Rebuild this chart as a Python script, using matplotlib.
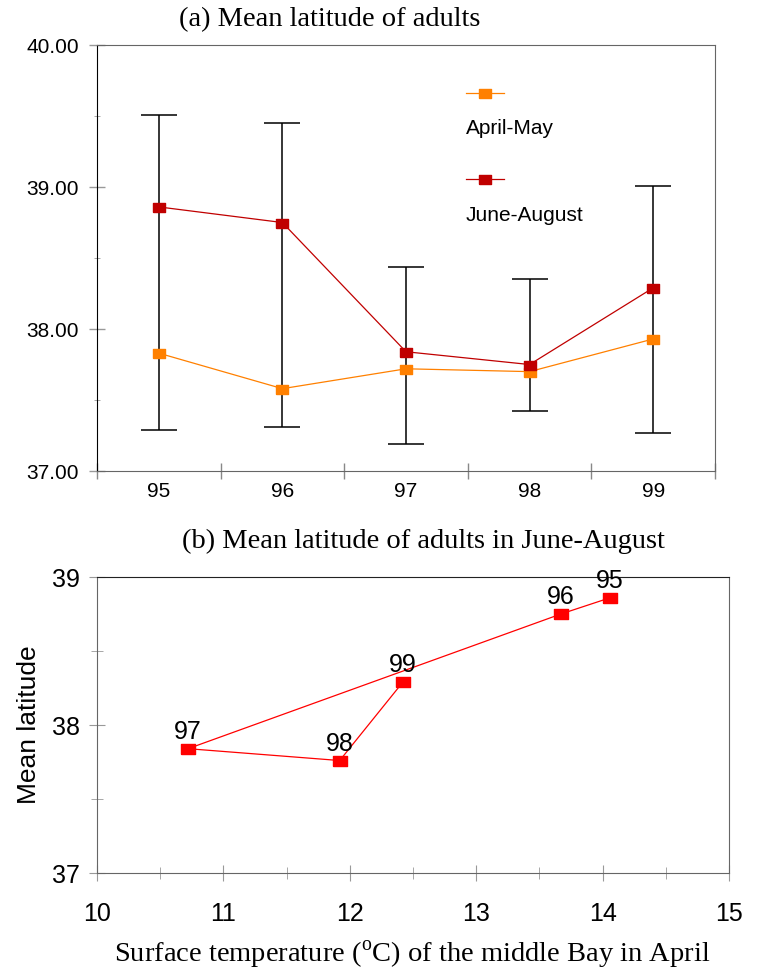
import matplotlib
matplotlib.use("Agg")
import matplotlib.pyplot as plt
import numpy as np

# panel (a)
years = ["95", "96", "97", "98", "99"]
apr_may = [37.83, 37.58, 37.72, 37.70, 37.93]
jun_aug = [38.86, 38.75, 37.84, 37.75, 38.29]
err_low = [37.29, 37.31, 37.19, 37.42, 37.27]
err_high = [39.51, 39.45, 38.44, 38.35, 39.01]

# panel (b)
temp_april = [14.06, 13.67, 10.72, 11.92, 12.42]
lat_june = [38.86, 38.75, 37.84, 37.76, 38.29]

plt.rcParams['font.family'] = ['Liberation Sans', 'DejaVu Sans']
plt.rcParams['mathtext.fontset'] = 'custom'
plt.rcParams['mathtext.rm'] = 'Liberation Serif'
serif = ['Liberation Serif', 'DejaVu Serif']

rect = [(-1, -0.72), (1, -0.72), (1, 0.72), (-1, 0.72), (-1, -0.72)]
c_apr = '#FF8000'
c_jun = '#C00000'
c_red = '#FF0000'

fig = plt.figure(figsize=(7.59, 9.75), dpi=100)

# ---- (a)
ax = fig.add_axes([0.1278, 0.5169, 0.8142, 0.4369])
x = np.arange(len(years))
low = np.array(err_low)
high = np.array(err_high)
ax.errorbar(x, (low + high) / 2, yerr=(high - low) / 2, fmt='none',
            ecolor='black', elinewidth=1.1, capsize=13, capthick=1.1, zorder=1)
ax.plot(x, apr_may, color=c_apr, lw=0.9, marker=rect, ms=9, mec=c_apr, mfc=c_apr, zorder=3)
ax.plot(x, jun_aug, color=c_jun, lw=0.9, marker=rect, ms=9, mec=c_jun, mfc=c_jun, zorder=4)
ax.set_xlim(-0.5, len(years) - 0.5)
ax.set_ylim(37, 40)
ax.set_xticks(x)
ax.set_xticklabels(years, fontsize=15)
ax.tick_params(axis='x', which='major', length=0, pad=8)
ax.set_xticks(np.arange(-0.5, len(years)), minor=True)
ax.tick_params(axis='x', which='minor', direction='inout', length=12, color='#888888', width=1)
ax.set_yticks([37, 38, 39, 40])
ax.set_yticklabels(['%.2f' % v for v in [37, 38, 39, 40]], fontsize=15)
ax.set_yticks([37.5, 38.5, 39.5], minor=True)
ax.tick_params(axis='y', which='major', direction='inout', length=12, color='#999999', width=1, pad=7)
ax.tick_params(axis='y', which='minor', direction='inout', length=5, color='#999999')
for s in ['top', 'right', 'bottom']:
    ax.spines[s].set_color('#666666')
ax.spines['left'].set_color('black')

# legend drawn by hand (text below the symbol)
for yh, yt, col, lab in [(0.887, 0.803, c_apr, 'April-May'), (0.685, 0.601, c_jun, 'June-August')]:
    ax.plot([0.597, 0.659], [yh, yh], color=col, lw=0.9, transform=ax.transAxes, clip_on=False)
    ax.plot([0.628], [yh], marker=rect, ms=9, color=col, transform=ax.transAxes, clip_on=False)
    ax.text(0.597, yt, lab, fontsize=15, transform=ax.transAxes, va='center', ha='left')

fig.text(330 / 759, 1 - 20 / 975, '(a) Mean latitude of adults', family=serif,
         fontsize=20.5, ha='center', va='center')

# ---- (b)
bx = fig.add_axes([0.1278, 0.1046, 0.8327, 0.3036])
bx.plot(temp_april, lat_june, color=c_red, lw=0.9, marker=rect, ms=9.5, mec=c_red, mfc=c_red)
for t, l, yr in zip(temp_april, lat_june, years):
    bx.annotate(yr, (t, l), xytext=(0, 7), textcoords='offset points',
                ha='center', va='baseline', fontsize=18)
bx.set_xlim(10, 15)
bx.set_ylim(37, 39)
bx.set_xticks([10, 11, 12, 13, 14, 15])
bx.set_xticks(np.arange(10.5, 15, 1), minor=True)
bx.set_yticks([37, 38, 39])
bx.set_yticks([37.5, 38.5], minor=True)
bx.tick_params(axis='both', which='major', direction='inout', length=12,
               color='#999999', labelsize=18)
bx.tick_params(axis='x', which='major', pad=15)
bx.tick_params(axis='y', which='major', pad=6)
bx.tick_params(axis='both', which='minor', direction='inout', length=8, color='#999999')
for s in ['left', 'right', 'bottom']:
    bx.spines[s].set_color('#666666')
bx.spines['top'].set_color('#222222')
bx.set_ylabel('Mean latitude', fontsize=19, labelpad=8)

fig.text(423 / 759, 1 - 541 / 975, '(b) Mean latitude of adults in June-August',
         family=serif, fontsize=20.5, ha='center', va='center')
fig.text(412 / 759, 1 - 955 / 975, r'Surface temperature ($^{\rm o}$C) of the middle Bay in April',
         family=serif, fontsize=20.5, ha='center', va='center')

fig.savefig('out.png', dpi=100)
